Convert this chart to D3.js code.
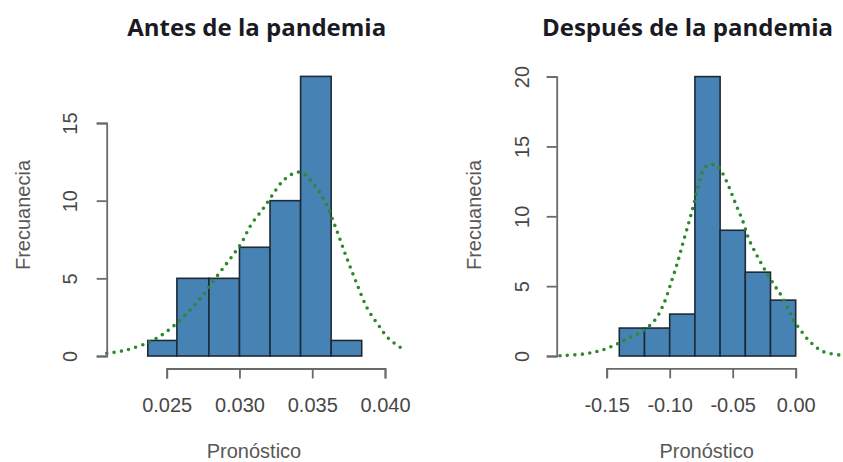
<!DOCTYPE html>
<html>
<head>
<meta charset="utf-8">
<script src="https://cdn.jsdelivr.net/npm/d3@7"></script>
<style>
  body { margin: 0; background: #fff; }
  svg { display: block; }
</style>
</head>
<body>
<div id="chart"></div>
<script>
// --- values ---

// Antes de la pandemia
const antesBreaks = [0.0237, 0.0257, 0.0279, 0.0300, 0.0321, 0.0342, 0.0363, 0.0384];
const antesCounts = [1, 5, 5, 7, 10, 18, 1];
const antesXTicks = [0.025, 0.030, 0.035, 0.040];
const antesXLabels = ["0.025", "0.030", "0.035", "0.040"];
const antesYTicks = [0, 5, 10, 15];
const antesYLabels = ["0", "5", "10", "15"];
const antesCurveX = [0.02088, 0.02225, 0.02385, 0.02477, 0.02569, 0.02660, 0.02741, 0.02809, 0.02878,
    0.02947, 0.03015, 0.03079, 0.03160, 0.03222, 0.03301, 0.03393, 0.03443, 0.03519, 0.03588,
    0.03663, 0.03732, 0.03801, 0.03878, 0.03954, 0.04023, 0.04115];
const antesCurveY = [0.17, 0.39, 0.92, 1.42, 2.11, 2.96, 3.82, 4.68, 5.54,
    6.39, 7.30, 8.44, 9.45, 10.30, 11.29, 11.83, 11.72, 10.95, 9.94,
    8.22, 6.44, 4.78, 3.07, 2.00, 1.14, 0.50];

// Después de la pandemia
const despuesBreaks = [-0.14, -0.12, -0.10, -0.08, -0.06, -0.04, -0.02, 0.00];
const despuesCounts = [2, 2, 3, 20, 9, 6, 4];
const despuesXTicks = [-0.15, -0.10, -0.05, 0.00];
const despuesXLabels = ["-0.15", "-0.10", "-0.05", "0.00"];
const despuesYTicks = [0, 5, 10, 15, 20];
const despuesYLabels = ["0", "5", "10", "15", "20"];
const despuesCurveX = [-0.1870, -0.1686, -0.1553, -0.1434, -0.1329, -0.1210, -0.1117, -0.1051, -0.0984,
    -0.0932, -0.0892, -0.0844, -0.0807, -0.0765, -0.0733, -0.0694, -0.0627, -0.0587, -0.0529,
    -0.0476, -0.0421, -0.0371, -0.0310, -0.0244, -0.0170, -0.0106, -0.0045, -0.0011, 0.0034,
    0.0113, 0.0219, 0.0374];
const despuesCurveY = [0.02, 0.14, 0.38, 0.79, 1.27, 1.81, 2.58, 3.65, 5.39,
    6.87, 8.18, 9.69, 10.93, 12.50, 13.31, 13.67, 13.64, 13.19, 12.08,
    10.88, 9.69, 8.35, 7.23, 6.16, 5.08, 4.20, 3.10, 2.46, 1.91,
    1.02, 0.31, 0.05];

const xLabelText = "Pronóstico";
const yLabelText = "Frecuanecia";

// --- layout of the two panels (pixels) ---
const panels = [
    {
        title: "Antes de la pandemia",
        breaks: antesBreaks, counts: antesCounts,
        curveX: antesCurveX, curveY: antesCurveY,
        xTicks: antesXTicks, xLabels: antesXLabels,
        yTicks: antesYTicks, yLabels: antesYLabels,
        xRange: [166.7, 385], yRange: [356, 123],
        yAxisX: 106.7, xAxisY: 368.5,
        titleX: 256.7, yLabelX: 22.5, yTickX: 69.5, xLabelX: 254
    },
    {
        title: "Después de la pandemia",
        breaks: despuesBreaks, counts: despuesCounts,
        curveX: despuesCurveX, curveY: despuesCurveY,
        xTicks: despuesXTicks, xLabels: despuesXLabels,
        yTicks: despuesYTicks, yLabels: despuesYLabels,
        xRange: [606.7, 795.7], yRange: [356, 76.6],
        yAxisX: 556.7, xAxisY: 368.3,
        titleX: 687.5, yLabelX: 473.5, yTickX: 522, xLabelX: 706.7
    }
];

const width = 843, height = 462;
const barFill = "#4682b4";
const barStroke = "#1e2a36";
const curveColor = "#2b8a2b";
const axisColor = "#6a6a6a";
const tickTextColor = "#474747";
const labelColor = "#585858";
const font = "'Liberation Sans', Arial, sans-serif";

const svg = d3.select("#chart").append("svg")
    .attr("width", width)
    .attr("height", height);

function draw_panel(p) {
    const x = d3.scaleLinear().domain(d3.extent(p.xTicks)).range(p.xRange);
    const y = d3.scaleLinear().domain(d3.extent(p.yTicks)).range(p.yRange);

    const g = svg.append("g");

    // histogram bars
    const bins = p.counts.map((c, i) => ({x0: p.breaks[i], x1: p.breaks[i + 1], n: c}));
    g.selectAll("rect.bar")
        .data(bins)
        .enter().append("rect")
        .attr("class", "bar")
        .attr("x", d => x(d.x0))
        .attr("width", d => x(d.x1) - x(d.x0))
        .attr("y", d => y(d.n))
        .attr("height", d => y(0) - y(d.n))
        .attr("fill", barFill)
        .attr("stroke", barStroke)
        .attr("stroke-width", 1.6);

    // dotted curve on top of the bars
    const pts = p.curveX.map((v, i) => [v, p.curveY[i]]);
    const line = d3.line()
        .x(d => x(d[0]))
        .y(d => y(d[1]))
        .curve(d3.curveCatmullRom.alpha(0.5));
    g.append("path")
        .datum(pts)
        .attr("fill", "none")
        .attr("stroke", curveColor)
        .attr("stroke-width", 3.6)
        .attr("stroke-linecap", "round")
        .attr("stroke-dasharray", "0 7.4")
        .attr("d", line);

    // x axis (R style: line spans the ticks only)
    const xAxis = g.append("g")
        .attr("transform", "translate(0," + p.xAxisY + ")")
        .call(d3.axisBottom(x)
            .tickValues(p.xTicks)
            .tickFormat((d, i) => p.xLabels[i])
            .tickSize(10)
            .tickSizeOuter(10));
    xAxis.select(".domain").attr("stroke", axisColor).attr("stroke-width", 1.8);
    xAxis.selectAll(".tick line").attr("stroke", axisColor).attr("stroke-width", 1.8);
    xAxis.selectAll(".tick text")
        .attr("y", 43.5)
        .attr("dy", null)
        .attr("fill", tickTextColor)
        .attr("font-family", font)
        .attr("font-size", 20);

    // y axis with rotated labels
    const yAxis = g.append("g")
        .attr("transform", "translate(" + p.yAxisX + ",0)")
        .call(d3.axisLeft(y)
            .tickValues(p.yTicks)
            .tickFormat((d, i) => p.yLabels[i])
            .tickSize(10)
            .tickSizeOuter(10));
    yAxis.select(".domain").attr("stroke", axisColor).attr("stroke-width", 1.8);
    yAxis.selectAll(".tick line").attr("stroke", axisColor).attr("stroke-width", 1.8);
    yAxis.selectAll(".tick text")
        .attr("x", null)
        .attr("dy", "0.36em")
        .attr("text-anchor", "middle")
        .attr("transform", "translate(" + (p.yTickX - p.yAxisX) + ",0) rotate(-90)")
        .attr("fill", tickTextColor)
        .attr("font-family", font)
        .attr("font-size", 20);

    // title
    svg.append("text")
        .attr("x", p.titleX)
        .attr("y", 36)
        .attr("text-anchor", "middle")
        .attr("font-family", "'Open Sans', Lato, sans-serif")
        .attr("font-weight", "bold")
        .attr("font-size", 24)
        .attr("fill", "#1a1a24")
        .text(p.title);

    // axis titles
    svg.append("text")
        .attr("x", p.xLabelX)
        .attr("y", 458)
        .attr("text-anchor", "middle")
        .attr("font-family", font)
        .attr("font-size", 20)
        .attr("fill", labelColor)
        .text(xLabelText);

    svg.append("text")
        .attr("transform", "translate(" + p.yLabelX + ",215) rotate(-90)")
        .attr("dy", "0.36em")
        .attr("text-anchor", "middle")
        .attr("font-family", font)
        .attr("font-size", 20)
        .attr("fill", labelColor)
        .text(yLabelText);
}

panels.forEach(draw_panel);
</script>
</body>
</html>
